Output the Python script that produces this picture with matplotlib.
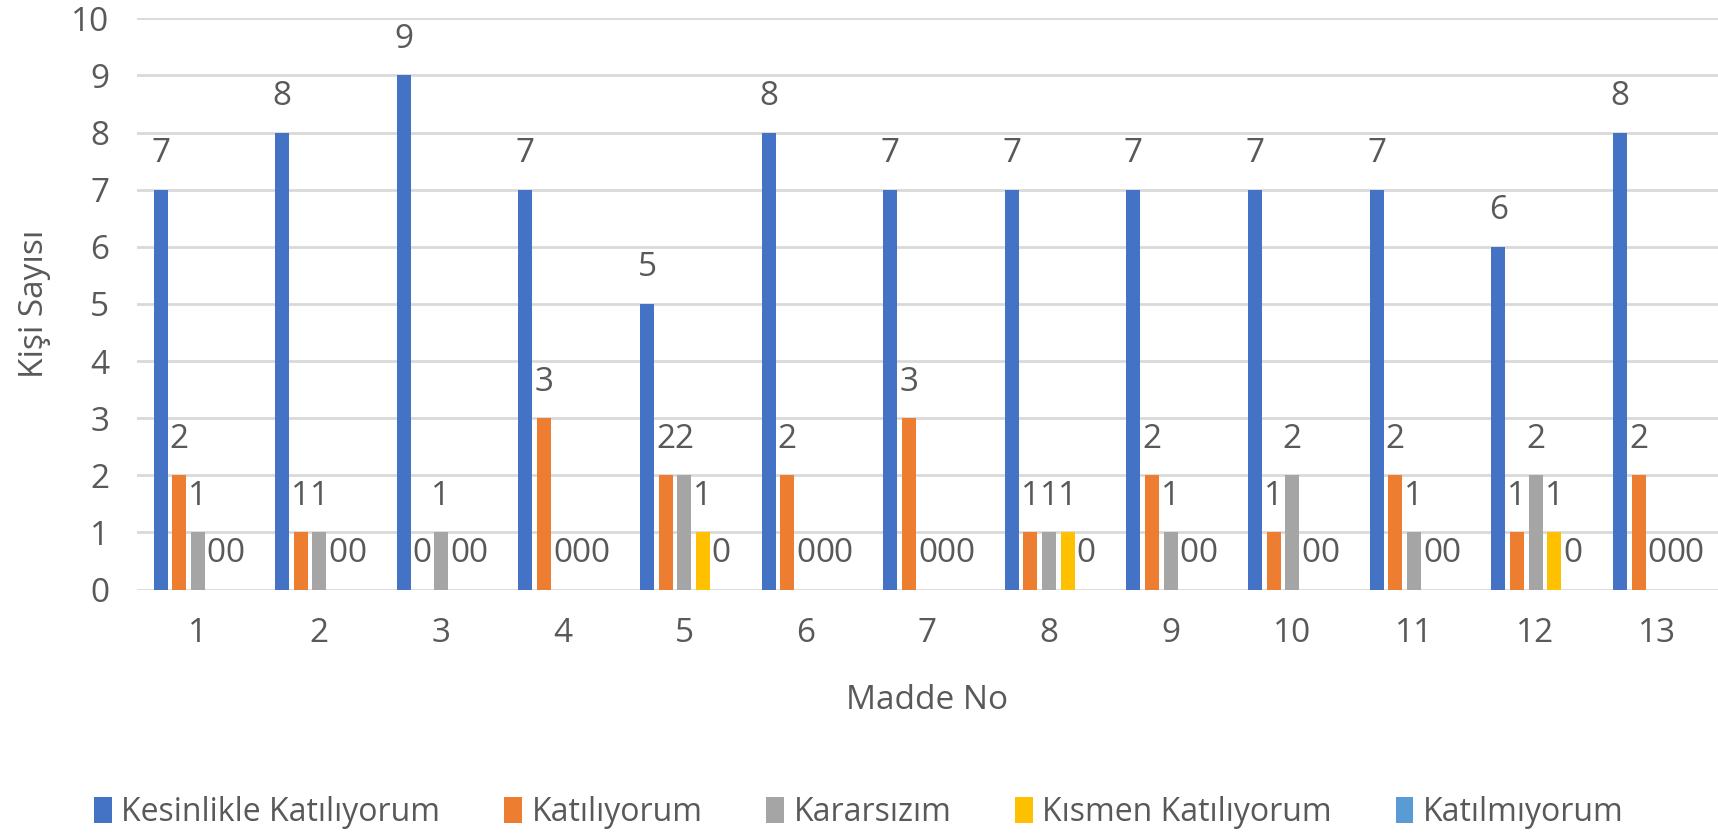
import numpy as np
import matplotlib.pyplot as plt

plt.rcParams['font.family'] = ['Open Sans', 'DejaVu Sans']

# data
madde = ["1", "2", "3", "4", "5", "6", "7", "8", "9", "10", "11", "12", "13"]
kesinlikle = [7, 8, 9, 7, 5, 8, 7, 7, 7, 7, 7, 6, 8]
katiliyorum = [2, 1, 0, 3, 2, 2, 3, 1, 2, 1, 2, 1, 2]
kararsizim = [1, 1, 1, 0, 2, 0, 0, 1, 1, 2, 1, 2, 0]
kismen = [0, 0, 0, 0, 1, 0, 0, 1, 0, 0, 0, 1, 0]
katilmiyorum = [0, 0, 0, 0, 0, 0, 0, 0, 0, 0, 0, 0, 0]

series_names = ["Kesinlikle Katılıyorum", "Katılıyorum", "Kararsızım",
                "Kısmen Katılıyorum", "Katılmıyorum"]
series = [kesinlikle, katiliyorum, kararsizim, kismen, katilmiyorum]
colors = ["#4472C4", "#ED7D31", "#A5A5A5", "#FFC000", "#5B9BD5"]
txt = "#595959"

fig = plt.figure(figsize=(17.18, 8.35), dpi=100)
ax = fig.add_axes([0.0797, 0.294, 0.9203, 0.684])

x = np.arange(len(madde))
pitch = 0.153
width = 0.115
for i, (name, vals, c) in enumerate(zip(series_names, series, colors)):
    pos = x + (i - 2) * pitch
    ax.bar(pos, vals, width=width, color=c, label=name, zorder=3)
    for p, v in zip(pos, vals):
        ax.annotate(str(v), (p, v), xytext=(0, 26), textcoords="offset points",
                    ha="center", va="center", fontsize=24, color=txt)

ax.set_ylim(0, 10)
ax.set_yticks(np.arange(0, 11, 1))
ax.set_xlim(-0.5, 12.5)
ax.set_xticks(x)
ax.set_xticklabels(madde)
ax.grid(axis="y", color="#D9D9D9", linewidth=2, zorder=0)
for s in ax.spines.values():
    s.set_visible(False)
ax.tick_params(axis="both", length=0, labelsize=24, labelcolor=txt)
ax.tick_params(axis="x", pad=20)
ax.tick_params(axis="y", pad=20)

ax.set_xlabel("Madde No", fontsize=24, color=txt, va="center")
ax.xaxis.set_label_coords(0.5, -0.195)
ax.set_ylabel("Kişi Sayısı", fontsize=24, color=txt, va="center")
ax.yaxis.set_label_coords(-0.0645, 0.5)

fig.legend(loc="center", bbox_to_anchor=(0.5, 0.027), ncol=5, frameon=False,
           fontsize=23, labelcolor=txt, handlelength=0.55, handleheight=0.9,
           handletextpad=0.3, columnspacing=2.0)

fig.savefig("out.png", dpi=100)
